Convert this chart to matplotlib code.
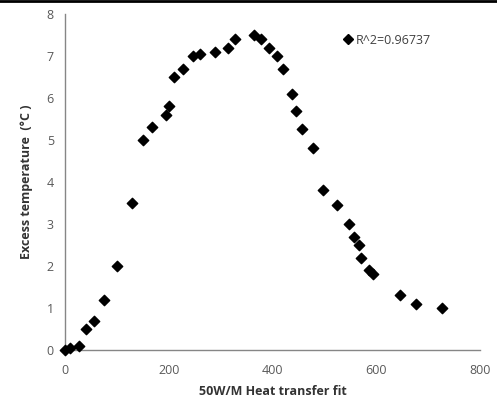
"""Excess temperature vs heat transfer fit — scatter recreation."""
import matplotlib
matplotlib.use("Agg")
import matplotlib.pyplot as plt
from matplotlib.lines import Line2D

# heat transfer fit (x) and excess temperature (y)
heat_fit = [0, 10, 27, 40, 55, 75, 100, 128, 150, 168, 195, 200, 209, 228, 247, 260,
            289, 314, 328, 364, 377, 393, 408, 421, 437, 446, 456, 477, 498, 525,
            548, 556, 567, 571, 586, 594, 645, 676, 726]
excess_temp = [0.0, 0.05, 0.1, 0.5, 0.7, 1.2, 2.0, 3.5, 5.0, 5.3, 5.6, 5.8, 6.5, 6.7, 7.0, 7.05,
               7.1, 7.2, 7.4, 7.5, 7.4, 7.2, 7.0, 6.7, 6.1, 5.7, 5.25, 4.8, 3.8, 3.45,
               3.0, 2.7, 2.5, 2.2, 1.9, 1.8, 1.3, 1.1, 1.0]
x_ticks = [0, 200, 400, 600, 800]
y_ticks = [0, 1, 2, 3, 4, 5, 6, 7, 8]
legend_label = "R^2=0.96737"

plt.rcParams["font.family"] = ["Open Sans", "DejaVu Sans"]
TICK_COLOR = "#595959"
AXIS_COLOR = "#868686"

fig = plt.figure(figsize=(4.97, 4.09), dpi=100)
ax = fig.add_axes([0.131, 0.144, 0.835, 0.822])

ax.scatter(heat_fit, excess_temp, marker="D", s=28, color="black", zorder=3, clip_on=False)

ax.set_xlim(0, 800)
ax.set_ylim(0, 8)
ax.set_xticks(x_ticks)
ax.set_yticks(y_ticks)
ax.tick_params(length=0, labelsize=9, colors=TICK_COLOR, pad=8)
ax.tick_params(axis="x", pad=10)

for side in ("top", "right"):
    ax.spines[side].set_visible(False)
for side in ("left", "bottom"):
    ax.spines[side].set_color(AXIS_COLOR)
    ax.spines[side].set_linewidth(1.0)

ax.set_xlabel("50W/M Heat transfer fit", fontsize=9, fontweight="bold", color="#333333", labelpad=6)
ax.set_ylabel("Excess temperature  (°C )", fontsize=9, fontweight="bold", color="#333333", labelpad=10)

handle = Line2D([], [], marker="D", ls="none", color="black", markersize=5)
ax.legend([handle], [legend_label], loc="upper left", bbox_to_anchor=(0.64, 0.975),
          frameon=False, fontsize=9, handletextpad=0.1, handlelength=1.0,
          labelcolor="#404040")

# black rule along the top edge of the image
fig.add_artist(Line2D([0, 1], [0.997, 0.997], color="black", lw=2, transform=fig.transFigure))

fig.savefig("out.png", dpi=100)
